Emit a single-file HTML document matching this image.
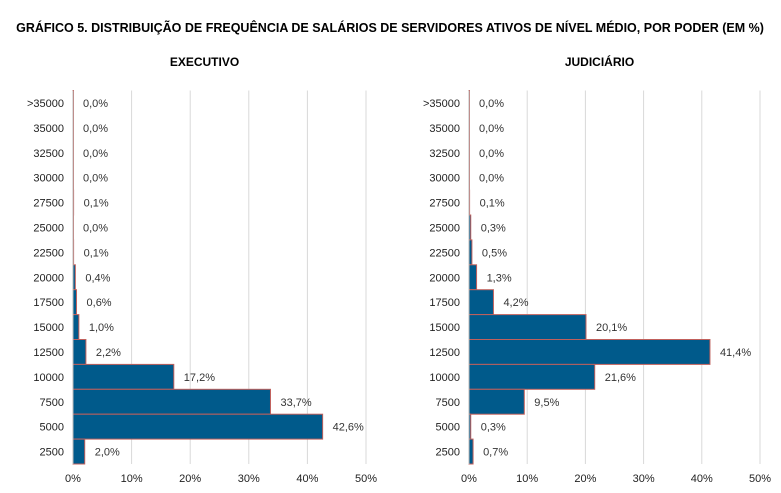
<!DOCTYPE html>
<html><head><meta charset="utf-8"><style>
body{margin:0;background:#fff;width:781px;height:488px;overflow:hidden;font-family:"Liberation Sans",sans-serif}
text{font-family:"Liberation Sans",sans-serif}
</style></head><body>
<svg id="c" width="781" height="488">
<text x="390" y="32" text-anchor="middle" font-size="12.5" font-weight="bold" fill="#000">GRÁFICO 5. DISTRIBUIÇÃO DE FREQUÊNCIA DE SALÁRIOS DE SERVIDORES ATIVOS DE NÍVEL MÉDIO, POR PODER (EM %)</text>
</svg>
<script>
const categories=[">35000","35000","32500","30000","27500","25000","22500","20000","17500","15000","12500","10000","7500","5000","2500"];
const executivoValues=[0.0,0.0,0.0,0.0,0.1,0.0,0.1,0.4,0.6,1.0,2.2,17.2,33.7,42.6,2.0];
const judiciarioValues=[0.0,0.0,0.0,0.0,0.1,0.3,0.5,1.3,4.2,20.1,41.4,21.6,9.5,0.3,0.7];
const tickValues=[0,10,20,30,40,50];
const panelTitles=["EXECUTIVO","JUDICIÁRIO"];
const NS="http://www.w3.org/2000/svg";
const svg=document.getElementById('c');
function mk(t,a,p){const e=document.createElementNS(NS,t);for(const k in a)e.setAttribute(k,a[k]);(p||svg).appendChild(e);return e;}
const top0=90.5,rowH=24.9;
function drawPanel(x0,x50,vals,title,key){
  const xs=v=>x0+(x50-x0)*v/50;
  const ys=i=>top0+i*rowH;
  const g=mk('g',{});
  
  
  const t=mk('text',{x:(x0+x50)/2-15,y:66,'text-anchor':'middle','font-size':12,'font-weight':'bold'},g);
  t.textContent=title;
  
  
  tickValues.forEach(v=>{
    const l=mk('line',{x1:xs(v),x2:xs(v),y1:top0,y2:ys(categories.length),stroke:'#d9d9d9','stroke-width':1},g);
    
    
    const tx=mk('text',{x:xs(v),y:482,'text-anchor':'middle','font-size':11,fill:'#222'},g);
    tx.textContent=v+'%';
    
    
  });
  categories.forEach((c,i)=>{
    const yc=ys(i)+rowH/2;
    const cl=mk('text',{x:x0-9,y:yc+4,'text-anchor':'end','font-size':11,fill:'#222'},g);
    cl.textContent=c;
    
    
    const v=vals[i];
    const r=mk('rect',{x:x0,y:ys(i),width:Math.max(xs(v)-x0,0.5),height:rowH,fill:'#005a8b',stroke:'#c0605c','stroke-width':1},g);
    
    
    const vl=mk('text',{x:xs(v)+10,y:yc+4,'font-size':11,fill:'#333'},g);
    vl.textContent=v.toFixed(1).replace('.',',')+'%';
    
    
  });
  const ax=mk('line',{x1:x0,x2:x0,y1:top0,y2:ys(categories.length),stroke:'#bbb'},g);
  
  
}
drawPanel(73,366,executivoValues,panelTitles[0],'executivo');
drawPanel(469,760,judiciarioValues,panelTitles[1],'judiciario');
</script>
</body></html>
